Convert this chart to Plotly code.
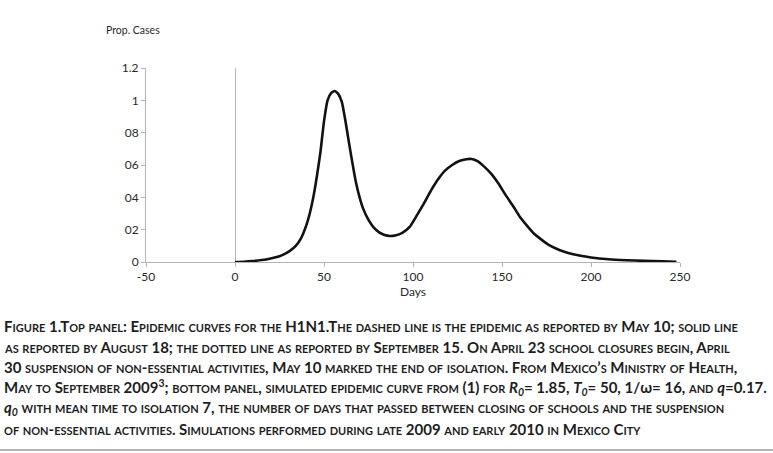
"""
Epidemic curve (Prop. Cases vs Days) with figure caption
"""

import plotly.graph_objects as go

# curve
days = [0, 5, 10, 15, 20, 25, 28, 31, 34, 37, 40, 42, 44, 46, 48, 50, 52, 54, 56,
        58, 60, 62, 64, 66, 68, 70, 72, 75, 78, 81, 84, 87, 90, 94, 98, 102, 106,
        110, 114, 118, 122, 126, 130, 133, 136, 140, 144, 148, 152, 156, 160, 164,
        168, 172, 176, 180, 185, 190, 195, 200, 210, 220, 230, 240, 248]
prop_cases = [0.0, 0.002, 0.006, 0.012, 0.022, 0.036, 0.05, 0.07, 0.098, 0.145,
              0.225, 0.3, 0.4, 0.53, 0.68, 0.87, 1.0, 1.045, 1.058, 1.04, 0.99,
              0.875, 0.74, 0.61, 0.49, 0.4, 0.33, 0.26, 0.212, 0.183, 0.167, 0.161,
              0.164, 0.18, 0.215, 0.285, 0.36, 0.44, 0.51, 0.565, 0.6, 0.625, 0.636,
              0.637, 0.625, 0.59, 0.545, 0.485, 0.415, 0.35, 0.28, 0.225, 0.175,
              0.14, 0.108, 0.085, 0.063, 0.048, 0.037, 0.028, 0.017, 0.011, 0.007,
              0.004, 0.002]

x_ticks = [-50, 0, 50, 100, 150, 200, 250]
x_tick_labels = ['-50', '0', '50', '100', '150', '200', '250']
y_ticks = [0, 0.2, 0.4, 0.6, 0.8, 1.0, 1.2]
y_tick_labels = ['0', '02', '04', '06', '08', '1', '1.2']

NV = '<span style="font-variant:normal">{}</span>'
caption_lines = [
    'Figure 1.Top panel: Epidemic curves for the H1N1.The dashed line is the epidemic as reported by May 10; solid line',
    'as reported by August 18; the dotted line as reported by September 15. On April 23 school closures begin, April',
    '30 suspension of non-essential activities, May 10 marked the end of isolation. From Mexico\u2019s Ministry of Health,',
    'May to September 2009<sup>3</sup>; bottom panel, simulated epidemic curve from (1) for '
    '<i>R<sub>0</sub></i>= 1.85, <i>T<sub>0</sub></i>= 50, 1/' + NV.format('\u03c9') + '= 16, and '
    '<i>' + NV.format('q') + '</i>=0.17.',
    '<i>' + NV.format('q') + '<sub>0</sub></i> with mean time to isolation 7, the number of days that '
    'passed between closing of schools and the suspension',
    'of non-essential activities. Simulations performed during late 2009 and early 2010 in Mexico City',
]

W, H = 773, 453
PLOT_L, PLOT_R, PLOT_T, PLOT_B = 146, 680, 68, 262
TXT = '#2a2a2a'


def px_to_paper(px, py):
    return ((px - PLOT_L) / (PLOT_R - PLOT_L), (PLOT_B - py) / (PLOT_B - PLOT_T))


fig = go.Figure()
fig.add_trace(go.Scatter(
    x=days,
    y=prop_cases,
    mode='lines',
    line=dict(color='#111111', width=2.6, shape='spline', smoothing=0.5),
    showlegend=False,
    hoverinfo='skip',
))

axis_style = dict(
    showline=True, linecolor='#b4b4b4', linewidth=1,
    ticks='outside', ticklen=4, tickcolor='#b4b4b4',
    showgrid=False,
    tickfont=dict(family='Lato', size=12, color=TXT),
)

fig.update_layout(
    width=W, height=H,
    margin=dict(l=PLOT_L, r=W - PLOT_R, t=PLOT_T, b=H - PLOT_B),
    paper_bgcolor='white', plot_bgcolor='white',
    xaxis=dict(range=[-50, 250], tickvals=x_ticks, ticktext=x_tick_labels,
               zeroline=True, zerolinecolor='#b4b4b4', zerolinewidth=1,
               **axis_style),
    yaxis=dict(range=[0, 1.2], tickvals=y_ticks, ticktext=y_tick_labels,
               zeroline=False, **axis_style),
)

x0, y0 = px_to_paper(104, 30)
fig.add_annotation(text='Prop. Cases', xref='paper', yref='paper', x=x0, y=y0,
                   xanchor='left', yanchor='middle', showarrow=False,
                   font=dict(family='Lato', size=10.5, color=TXT))

_, yd = px_to_paper(0, 291)
fig.add_annotation(text='Days', xref='x', yref='paper', x=100, y=yd,
                   xanchor='center', yanchor='middle', showarrow=False,
                   font=dict(family='Lato', size=12, color=TXT))

for i, line in enumerate(caption_lines):
    cx, cy = px_to_paper(2, 326 + 20.5 * i)
    fig.add_annotation(text=line, xref='paper', yref='paper', x=cx, y=cy,
                       xanchor='left', yanchor='middle', showarrow=False, align='left',
                       font=dict(family='Lato', size=15, color='#1e1e1e',
                                 weight='bold', variant='small-caps'))

lx0, ly = px_to_paper(0, 450)
lx1, _ = px_to_paper(W, 450)
fig.add_shape(type='line', xref='paper', yref='paper', x0=lx0, x1=lx1, y0=ly, y1=ly,
              line=dict(color='#9a9a9a', width=1.5))

# drop the default 8px body margin so the figure sits at the window's corner
fig.write_html('out.html', config={'displayModeBar': False},
               post_script="document.body.style.margin='0';")
